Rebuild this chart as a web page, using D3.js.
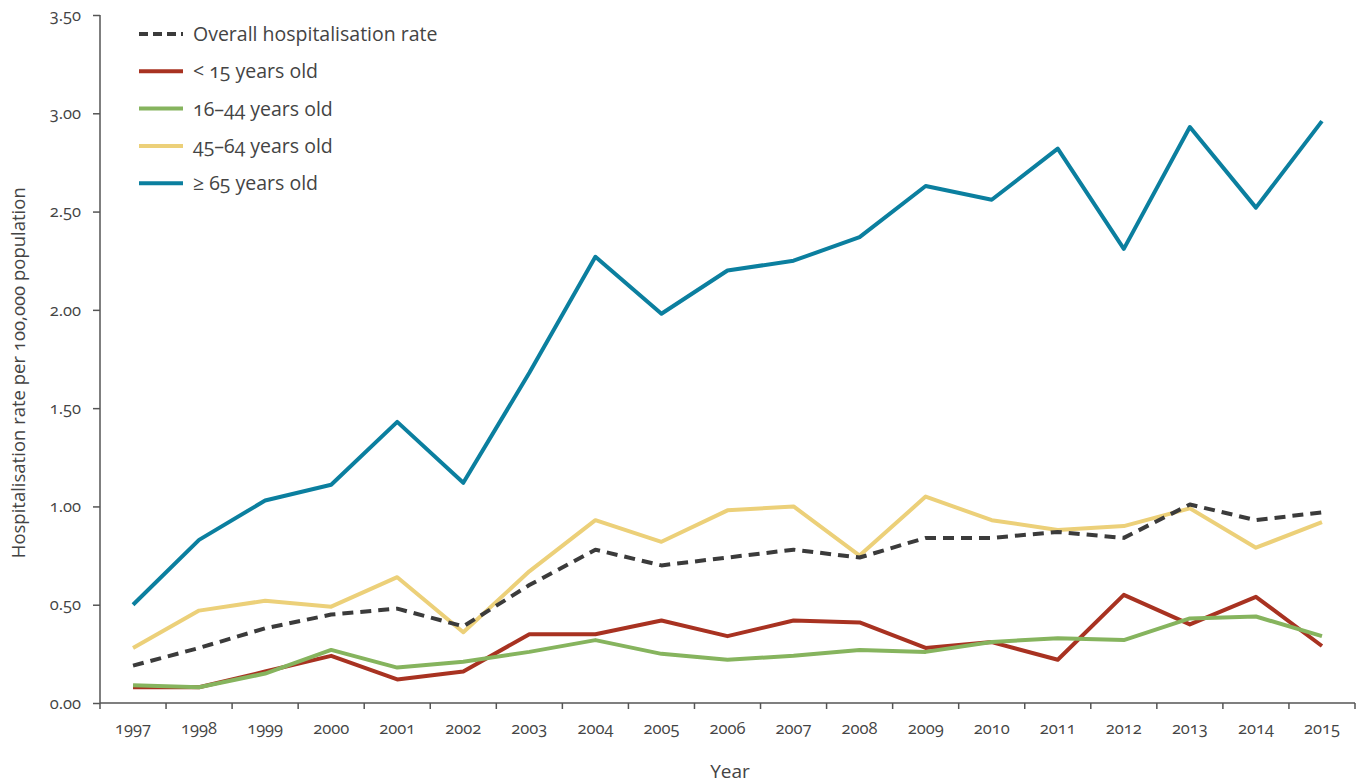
<!DOCTYPE html>
<html>
<head>
<meta charset="utf-8">
<script src="https://cdn.jsdelivr.net/npm/d3@7"></script>
<style>
  body { margin: 0; background: #fff; }
  svg text { font-family: 'Open Sans', Lato, sans-serif; fill: #444; font-feature-settings: 'onum'; }
</style>
</head>
<body>
<div class="canvas"></div>
<script>
'use strict';

const years = ['1997', '1998', '1999', '2000', '2001', '2002', '2003', '2004', '2005', '2006',
  '2007', '2008', '2009', '2010', '2011', '2012', '2013', '2014', '2015'];

const overall = [0.19, 0.28, 0.38, 0.45, 0.48, 0.39, 0.60, 0.78, 0.70, 0.74,
  0.78, 0.74, 0.84, 0.84, 0.87, 0.84, 1.01, 0.93, 0.97];
const under15 = [0.08, 0.08, 0.16, 0.24, 0.12, 0.16, 0.35, 0.35, 0.42, 0.34,
  0.42, 0.41, 0.28, 0.31, 0.22, 0.55, 0.40, 0.54, 0.29];
const age16to44 = [0.09, 0.08, 0.15, 0.27, 0.18, 0.21, 0.26, 0.32, 0.25, 0.22,
  0.24, 0.27, 0.26, 0.31, 0.33, 0.32, 0.43, 0.44, 0.34];
const age45to64 = [0.28, 0.47, 0.52, 0.49, 0.64, 0.36, 0.67, 0.93, 0.82, 0.98,
  1.00, 0.75, 1.05, 0.93, 0.88, 0.90, 0.99, 0.79, 0.92];
const over65 = [0.50, 0.83, 1.03, 1.11, 1.43, 1.12, 1.68, 2.27, 1.98, 2.20,
  2.25, 2.37, 2.63, 2.56, 2.82, 2.31, 2.93, 2.52, 2.96];

const yTicks = [0, 0.5, 1, 1.5, 2, 2.5, 3, 3.5];

const series = [
  { name: 'Overall hospitalisation rate', values: overall, color: '#3b3b3b', dash: '11,7' },
  { name: '< 15 years old', values: under15, color: '#a83221', dash: null },
  { name: '16\u201344 years old', values: age16to44, color: '#86b45e', dash: null },
  { name: '45\u201364 years old', values: age45to64, color: '#ecd079', dash: null },
  { name: '\u2265 65 years old', values: over65, color: '#0b7f9f', dash: null }
];
// draw order: dashed under the coloured lines like the source
const drawOrder = [4, 3, 0, 1, 2];

const width = 1360;
const height = 784;
const margin = { top: 15, right: 5, bottom: 81, left: 100 };
const graphHeight = height - margin.top - margin.bottom;

const svg = d3.select('.canvas')
  .append('svg')
  .attr('width', width)
  .attr('height', height);

const x = d3.scaleBand().domain(years).range([margin.left, width - margin.right]);
const y = d3.scaleLinear().domain([0, 3.5]).range([margin.top + graphHeight, margin.top]);

// x axis with ticks between categories
const xAxisGroup = svg.append('g')
  .attr('transform', `translate(0, ${y(0)})`);
xAxisGroup.append('line')
  .attr('x1', margin.left).attr('x2', width - margin.right)
  .attr('stroke', '#555').attr('stroke-width', 1.5);
xAxisGroup.selectAll('.tick')
  .data(d3.range(years.length + 1))
  .enter()
  .append('line')
  .attr('x1', i => margin.left + i * x.step())
  .attr('x2', i => margin.left + i * x.step())
  .attr('y1', 0).attr('y2', 6)
  .attr('stroke', '#555').attr('stroke-width', 1.5);
xAxisGroup.selectAll('text')
  .data(years)
  .enter()
  .append('text')
  .attr('x', d => x(d) + x.bandwidth() / 2)
  .attr('y', 31)
  .attr('text-anchor', 'middle')
  .style('font-size', '16.5px')
  .text(d => d);

// y axis
const yAxis = d3.axisLeft(y)
  .tickValues(yTicks)
  .tickSize(7)
  .tickPadding(12)
  .tickFormat(d3.format('.2f'));
const yAxisGroup = svg.append('g')
  .attr('transform', `translate(${margin.left}, 0)`)
  .call(yAxis);
yAxisGroup.select('.domain').remove();
yAxisGroup.append('line')
  .attr('y1', y(0)).attr('y2', y(3.5))
  .attr('stroke', '#555').attr('stroke-width', 1.5);
yAxisGroup.selectAll('.tick line').attr('stroke', '#555').attr('stroke-width', 1.5);
yAxisGroup.selectAll('.tick text')
  .style('font-size', '16.5px')
  .style('font-family', "'Open Sans', sans-serif")
  .attr('fill', '#444');

// lines
const line = d3.line()
  .x((d, i) => x(years[i]) + x.bandwidth() / 2)
  .y(d => y(d));

svg.append('g')
  .selectAll('path')
  .data(drawOrder.map(i => series[i]))
  .enter()
  .append('path')
  .attr('d', d => line(d.values))
  .attr('fill', 'none')
  .attr('stroke', d => d.color)
  .attr('stroke-width', 4)
  .attr('stroke-linejoin', 'round')
  .attr('stroke-dasharray', d => d.dash);

// legend
const legend = svg.append('g').attr('transform', 'translate(139, 34)');
const rows = legend.selectAll('g')
  .data(series)
  .enter()
  .append('g')
  .attr('transform', (d, i) => `translate(0, ${i * 37.3})`);
rows.append('line')
  .attr('x1', 0).attr('x2', 44)
  .attr('stroke', d => d.color)
  .attr('stroke-width', 4)
  .attr('stroke-dasharray', d => d.dash ? '9,5' : null);
rows.append('text')
  .attr('x', 54)
  .attr('y', 7)
  .style('font-size', '19.5px')
  .text(d => d.name);

// axis titles
svg.append('text')
  .attr('transform', `translate(25, ${y(1.68)}) rotate(-90)`)
  .attr('text-anchor', 'middle')
  .style('font-size', '18.5px')
  .text('Hospitalisation rate per 100,000 population');

svg.append('text')
  .attr('x', 730)
  .attr('y', 778)
  .attr('text-anchor', 'middle')
  .style('font-size', '19px')
  .text('Year');
</script>
</body>
</html>
